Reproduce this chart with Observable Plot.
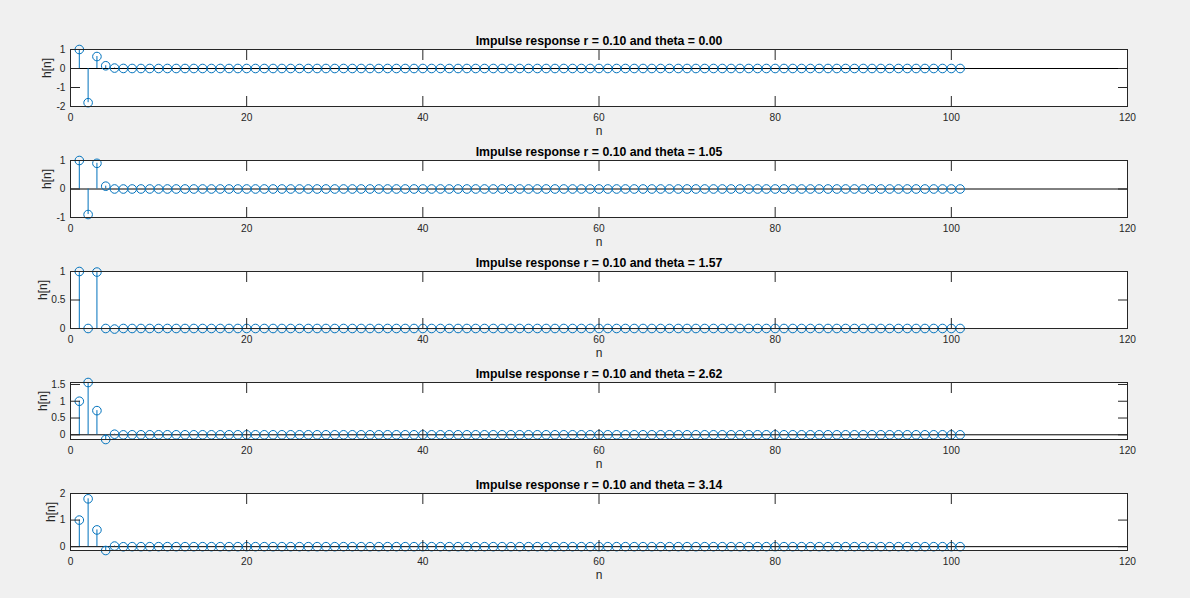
<!DOCTYPE html>
<html>
<head>
<meta charset="utf-8">
<script src="https://cdn.jsdelivr.net/npm/d3@7"></script>
<script src="https://cdn.jsdelivr.net/npm/@observablehq/plot@0.6"></script>
<style>
  html, body { margin: 0; padding: 0; background: #f0f0f0; }
  #chart { width: 1190px; height: 598px; padding-top: 29px; box-sizing: border-box; background: #f0f0f0; overflow: hidden; }
  #chart svg { display: block; }
</style>
</head>
<body>
<div id="chart"></div>
<script>
// sample index n = 1 .. 101
const nValues = d3.range(1, 102);

// r value and theta labels per subplot
const rLabel = "0.10";
const thetaLabels = ["0.00", "1.05", "1.57", "2.62", "3.14"];

// impulse responses (101 samples each)
const hTheta000 = [1,-1.8,0.63,0.144,0.0225,0.0031,0.0004,
0,0,0,0,0,0,0,0,0,0,
0,0,0,0,0,0,0,0,0,0,
0,0,0,0,0,0,0,0,0,0,
0,0,0,0,0,0,0,0,0,0,
0,0,0,0,0,0,0,0,0,0,
0,0,0,0,0,0,0,0,0,0,
0,0,0,0,0,0,0,0,0,0,
0,0,0,0,0,0,0,0,0,0,
0,0,0,0,0,0,0,0,0,0,
0,0,0,0];
const hTheta105 = [1,-0.896,0.901,0.0986,0.0008,-0.0009,
0,0,0,0,0,0,0,0,0,0,
0,0,0,0,0,0,0,0,0,0,
0,0,0,0,0,0,0,0,0,0,
0,0,0,0,0,0,0,0,0,0,
0,0,0,0,0,0,0,0,0,0,
0,0,0,0,0,0,0,0,0,0,
0,0,0,0,0,0,0,0,0,0,
0,0,0,0,0,0,0,0,0,0,
0,0,0,0,0,0,0,0,0,0,
0,0,0,0,0];
const hTheta157 = [1,0,0.99,0,-0.0099,0,0.0001,
0,0,0,0,0,0,0,0,0,0,
0,0,0,0,0,0,0,0,0,0,
0,0,0,0,0,0,0,0,0,0,
0,0,0,0,0,0,0,0,0,0,
0,0,0,0,0,0,0,0,0,0,
0,0,0,0,0,0,0,0,0,0,
0,0,0,0,0,0,0,0,0,0,
0,0,0,0,0,0,0,0,0,0,
0,0,0,0,0,0,0,0,0,0,
0,0,0,0];
const hTheta262 = [1,1.5588,0.72,-0.1403,0.0171,-0.0016,0.0001,
0,0,0,0,0,0,0,0,0,0,
0,0,0,0,0,0,0,0,0,0,
0,0,0,0,0,0,0,0,0,0,
0,0,0,0,0,0,0,0,0,0,
0,0,0,0,0,0,0,0,0,0,
0,0,0,0,0,0,0,0,0,0,
0,0,0,0,0,0,0,0,0,0,
0,0,0,0,0,0,0,0,0,0,
0,0,0,0,0,0,0,0,0,0,
0,0,0,0];
const hTheta314 = [1,1.8,0.63,-0.144,0.0225,-0.0031,0.0004,
0,0,0,0,0,0,0,0,0,0,
0,0,0,0,0,0,0,0,0,0,
0,0,0,0,0,0,0,0,0,0,
0,0,0,0,0,0,0,0,0,0,
0,0,0,0,0,0,0,0,0,0,
0,0,0,0,0,0,0,0,0,0,
0,0,0,0,0,0,0,0,0,0,
0,0,0,0,0,0,0,0,0,0,
0,0,0,0,0,0,0,0,0,0,
0,0,0,0];
const seriesList = [hTheta000, hTheta105, hTheta157, hTheta262, hTheta314];

// axis limits and ticks
const xDomain = [0, 120];
const xTicks = [0, 20, 40, 60, 80, 100, 120];
const yDomains = [[-2, 1], [-1, 1], [0, 1], [-0.1403, 1.5588], [-0.144, 2]];
const yTicks = [[-2, -1, 0, 1], [-1, 0, 1], [0, 0.5, 1], [0, 0.5, 1, 1.5], [0, 1, 2]];

// y-label horizontal offset from the axes' left edge (MATLAB moves it past the tick labels)
const yLabelOffsets = [-23.5, -23, -27, -27, -19];

const stemColor = "#0072BD";
const axisColor = "#262626";
const container = document.getElementById("chart");

seriesList.forEach((values, i) => {
  const data = values.map((h, k) => ({n: nValues[k], h}));
  const title = `Impulse response r = ${rLabel} and theta = ${thetaLabels[i]}`;
  const chart = Plot.plot({
    width: 1190,
    height: 111,
    marginLeft: 70,
    marginRight: 63,
    marginTop: 20,
    marginBottom: 34,
    style: {background: "transparent", fontFamily: "'Liberation Sans', Arial, Helvetica, sans-serif", fontSize: "10.2px", color: axisColor, overflow: "visible"},
    x: {domain: xDomain, label: null},
    y: {domain: yDomains[i], label: null},
    marks: [
      Plot.frame({fill: "white", stroke: "none"}),
      Plot.ruleY([0], {stroke: "#000", strokeWidth: 1}),
      Plot.ruleX(data, {x: "n", y1: 0, y2: "h", stroke: stemColor, strokeWidth: 1}),
      Plot.dot(data, {x: "n", y: "h", r: 4.3, stroke: stemColor, fill: "none", strokeWidth: 1}),
      Plot.axisX({ticks: xTicks, anchor: "bottom", tickSize: -10, tickPadding: 17, label: null, tickFormat: d => String(d), stroke: axisColor, fill: axisColor}),
      Plot.axisX({ticks: xTicks, anchor: "top", tickSize: -10, label: null, tickFormat: () => "", stroke: axisColor}),
      Plot.axisY({ticks: yTicks[i], anchor: "left", tickSize: -10, tickPadding: 15, label: null, tickFormat: d => String(d), stroke: axisColor, fill: axisColor}),
      Plot.axisY({ticks: yTicks[i], anchor: "right", tickSize: -10, label: null, tickFormat: () => "", stroke: axisColor}),
      Plot.frame({stroke: axisColor, strokeWidth: 1}),
      Plot.text([title], {text: d => d, frameAnchor: "top", dy: -8, lineAnchor: "middle", fontWeight: "bold", fontSize: 12.3, fill: "#000"}),
      Plot.text(["h[n]"], {text: d => d, frameAnchor: "left", dx: yLabelOffsets[i], rotate: -90, lineAnchor: "middle", fontSize: 12, fill: axisColor}),
      Plot.text(["n"], {text: d => d, frameAnchor: "bottom", dy: 25, lineAnchor: "middle", fontSize: 12, fill: axisColor})
    ]
  });
  container.appendChild(chart);
});
</script>
</body>
</html>
